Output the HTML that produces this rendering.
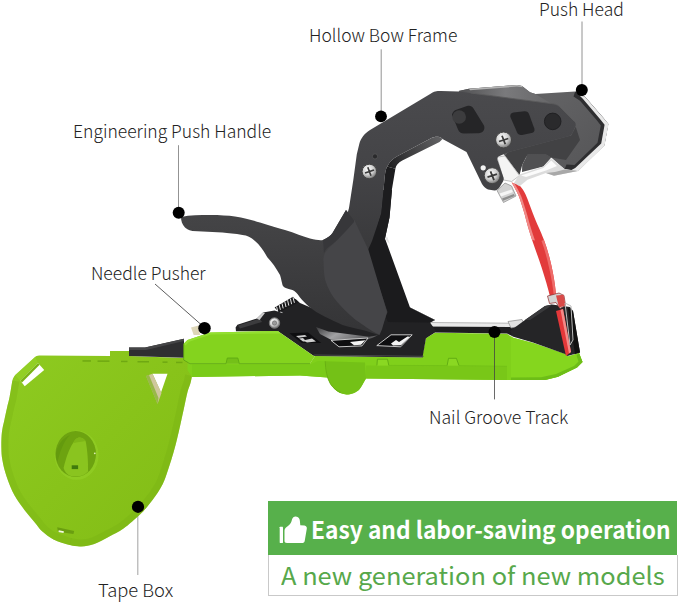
<!DOCTYPE html>
<html lang="en">
<head>
<meta charset="utf-8">
<title>Tape Tool Parts</title>
<style>
html,body{margin:0;padding:0;background:#fff;}
#stage{position:relative;width:679px;height:603px;overflow:hidden;background:#fff;
  font-family:"Noto Sans CJK SC","Liberation Sans",sans-serif;}
#art{position:absolute;left:0;top:0;}
.lb{position:absolute;white-space:nowrap;font-weight:300;font-size:17.5px;line-height:20px;color:#222;}
#banner{position:absolute;left:268px;top:501px;width:409px;height:54px;background:#57b04b;}
#banner span{position:absolute;left:43.1px;top:10px;font-weight:700;font-size:23.7px;line-height:36px;color:#fff;white-space:nowrap;transform:scaleX(0.960);transform-origin:0 50%;}
#sub{position:absolute;left:268px;top:555px;width:408px;height:40px;border:1px solid #c9c9c9;border-top:none;background:#fff;}
#sub span{position:absolute;left:12.2px;top:0px;font-weight:400;font-size:24.2px;line-height:39px;color:#57a84b;white-space:nowrap;transform:scaleX(1.05);transform-origin:0 50%;}
</style>
</head>
<body>
<div id="stage">
<svg id="art" width="679" height="603" viewBox="0 0 679 603">
<defs>
  <linearGradient id="gBox" x1="0" y1="0" x2="1" y2="1">
    <stop offset="0" stop-color="#8ecb21"/><stop offset="0.5" stop-color="#88c31a"/><stop offset="1" stop-color="#82bc16"/>
  </linearGradient>
  <linearGradient id="gFrame" x1="0" y1="0" x2="0" y2="1">
    <stop offset="0" stop-color="#4a4a4d"/><stop offset="0.45" stop-color="#444447"/><stop offset="1" stop-color="#38383a"/>
  </linearGradient>
  <linearGradient id="gHouse" x1="0" y1="0" x2="1" y2="0.6">
    <stop offset="0" stop-color="#525254"/><stop offset="0.5" stop-color="#626264"/><stop offset="1" stop-color="#58585a"/>
  </linearGradient>
  <linearGradient id="gHandle" x1="0" y1="0" x2="0" y2="1">
    <stop offset="0" stop-color="#454547"/><stop offset="1" stop-color="#343436"/>
  </linearGradient>
  <linearGradient id="gTopStrip" x1="0" y1="0" x2="1" y2="0">
    <stop offset="0" stop-color="#505052"/><stop offset="0.5" stop-color="#7a7a7c"/><stop offset="1" stop-color="#666668"/>
  </linearGradient>
  <linearGradient id="gRefl" x1="0" y1="0" x2="1" y2="0.3">
    <stop offset="0" stop-color="#3a3a3c"/><stop offset="0.45" stop-color="#a2a2a4"/><stop offset="1" stop-color="#5a5a5c"/>
  </linearGradient>
  <linearGradient id="gBevel" gradientUnits="userSpaceOnUse" x1="388" y1="166" x2="442" y2="139">
    <stop offset="0" stop-color="#1f1f21"/><stop offset="0.35" stop-color="#3a3a3c"/><stop offset="1" stop-color="#626264"/>
  </linearGradient>
  <radialGradient id="gScrew" cx="0.4" cy="0.35" r="0.7">
    <stop offset="0" stop-color="#ffffff"/><stop offset="0.55" stop-color="#cfcfcf"/><stop offset="1" stop-color="#6a6a6a"/>
  </radialGradient>
</defs>

<!-- ===== label leader lines ===== -->
<g stroke="#777" stroke-width="0.8" fill="none">
  <line x1="582" y1="21.5" x2="582" y2="90"/>
  <line x1="381.2" y1="49.3" x2="381.2" y2="116"/>
  <line x1="178.5" y1="145.2" x2="178.5" y2="212"/>
  <line x1="155" y1="284" x2="205" y2="328" stroke="#333"/>
  <line x1="137.8" y1="507" x2="137.8" y2="575" stroke="#aaa" stroke-width="1.1"/>
</g>

<!-- ===== tape box (green) ===== -->
<path d="M40.6,355.6 L110,356 L110,351 L129,351 L129,356 L184,358 L190,364 L192,376 C191.8,377.2 191.2,380.3 190.5,383.0 C189.8,385.7 188.6,387.8 187.5,392.0 C186.4,396.2 185.2,402.7 184.0,408.0 C182.8,413.3 181.7,418.7 180.5,424.0 C179.3,429.3 178.2,434.4 176.8,440.0 C175.4,445.6 174.1,450.7 172.0,457.4 C169.9,464.1 166.9,474.1 164.5,480.0 C162.1,485.9 160.3,488.7 157.5,493.0 C154.7,497.3 150.8,502.3 147.8,505.9 C144.8,509.5 143.8,511.0 139.7,514.8 C135.6,518.6 128.6,525.0 123.5,528.6 C118.4,532.2 113.8,534.1 108.9,536.7 C104.0,539.3 98.9,542.4 94.3,544.0 C89.7,545.6 85.4,546.2 81.3,546.4 C77.2,546.6 74.3,546.2 69.7,545.0 C65.1,543.8 58.1,541.7 53.5,539.4 C48.9,537.1 45.2,534.1 42.1,531.3 C39.0,528.5 37.5,525.6 34.8,522.4 C32.1,519.1 29.3,516.3 25.9,511.8 C22.5,507.3 17.8,501.5 14.6,495.6 C11.4,489.7 8.5,482.1 6.5,476.2 C4.5,470.3 3.2,464.7 2.4,460.0 C1.5,455.3 1.5,452.0 1.4,448.0 C1.3,444.0 1.4,439.3 1.6,436.0 C1.8,432.7 2.1,430.7 2.6,428.0 C3.1,425.3 3.7,423.3 4.4,420.0 C5.1,416.7 6.1,411.9 7.0,408.0 C7.9,404.1 8.8,401.2 9.7,396.6 C10.6,392.0 11.9,383.3 12.4,380.6 C13,378 14,376.5 15,375.3 L35.3,356.8 C37,355.8 38.5,355.6 40.6,355.6 Z" fill="url(#gBox)"/>
<!-- right/bottom rim -->
<path d="M192.0,376.0 C191.8,377.2 191.2,380.3 190.5,383.0 C189.8,385.7 188.6,387.8 187.5,392.0 C186.4,396.2 185.2,402.7 184.0,408.0 C182.8,413.3 181.7,418.7 180.5,424.0 C179.3,429.3 178.2,434.4 176.8,440.0 C175.4,445.6 174.1,450.7 172.0,457.4 C169.9,464.1 166.9,474.1 164.5,480.0 C162.1,485.9 160.3,488.7 157.5,493.0 C154.7,497.3 150.8,502.3 147.8,505.9 C144.8,509.5 143.8,511.0 139.7,514.8 C135.6,518.6 128.6,525.0 123.5,528.6 C118.4,532.2 113.8,534.1 108.9,536.7 C104.0,539.3 98.9,542.4 94.3,544.0 C89.7,545.6 85.4,546.2 81.3,546.4 C77.2,546.6 71.6,545.2 69.7,545.0 L70.5,538.1 C72.3,538.3 77.4,539.5 81.0,539.4 C84.6,539.3 87.9,538.9 92.0,537.4 C96.1,535.9 101.1,532.9 105.6,530.5 C110.2,528.1 114.6,526.4 119.4,522.9 C124.3,519.4 131.1,513.3 134.9,509.7 C138.7,506.1 139.6,504.9 142.4,501.5 C145.2,498.1 149.0,493.2 151.6,489.2 C154.2,485.2 155.7,483.0 158.0,477.4 C160.3,471.7 163.3,461.9 165.3,455.3 C167.3,448.8 168.6,443.8 170.0,438.3 C171.4,432.8 172.5,427.8 173.7,422.5 C174.9,417.2 176.0,411.9 177.2,406.5 C178.3,401.1 179.6,394.5 180.7,390.2 C181.8,386.0 183.0,383.7 183.8,381.1 C184.5,378.5 184.9,375.6 185.2,374.5 Z" fill="#79b314" opacity="0.45"/>
<!-- left rim -->
<path d="M69.7,545.0 C67.0,544.1 58.1,541.7 53.5,539.4 C48.9,537.1 45.2,534.1 42.1,531.3 C39.0,528.5 37.5,525.6 34.8,522.4 C32.1,519.1 29.3,516.3 25.9,511.8 C22.5,507.3 17.8,501.5 14.6,495.6 C11.4,489.7 8.5,482.1 6.5,476.2 C4.5,470.3 3.2,464.7 2.4,460.0 C1.5,455.3 1.5,452.0 1.4,448.0 C1.3,444.0 1.4,439.3 1.6,436.0 C1.8,432.7 2.1,430.7 2.6,428.0 C3.1,425.3 3.7,423.3 4.4,420.0 C5.1,416.7 6.1,411.9 7.0,408.0 C7.9,404.1 8.8,401.2 9.7,396.6 C10.6,392.0 11.9,383.3 12.4,380.6 L19.3,381.8 C18.8,384.5 17.5,393.3 16.6,398.0 C15.7,402.6 14.7,405.6 13.8,409.5 C12.9,413.5 12.0,418.2 11.2,421.5 C10.5,424.8 9.9,426.7 9.5,429.2 C9.1,431.7 8.8,433.3 8.6,436.4 C8.4,439.5 8.3,444.0 8.4,447.8 C8.5,451.5 8.5,454.4 9.3,458.8 C10.1,463.1 11.2,468.3 13.1,473.9 C15.0,479.5 17.7,486.6 20.7,492.3 C23.8,497.9 28.3,503.3 31.5,507.6 C34.7,511.9 37.6,514.8 40.2,517.9 C42.7,521.0 44.1,523.6 46.8,526.1 C49.5,528.7 52.4,531.1 56.6,533.1 C60.8,535.2 69.4,537.5 72.0,538.4 Z" fill="#7db716" opacity="0.5"/>
<path d="M15,375.3 L35.3,356.8 L38,363 L20.3,380.6 Z" fill="#97d42a" opacity="0.55"/>
<!-- hub -->
<ellipse cx="76.6" cy="455.2" rx="22" ry="24.6" fill="#95d12a" opacity="0.55"/>
<ellipse cx="75.7" cy="454" rx="20.3" ry="23" fill="#6da310"/>
<path d="M57.5,462 C60,452 63,442 70,435 C63,438 57.5,445 56.2,452 C55.6,456 56,459 57.5,462 Z" fill="#649a0e"/>
<path d="M63.6,468 C66,458 69,449 72.9,443.2 C75,439.5 77,437.6 79,437.4 C82,437.5 84.5,439 85.6,440.9 C87.5,450 88.3,462 88,471.5 C84,476.5 76,477.6 70,475.8 C67,474.5 64.5,471.5 63.6,468 Z" fill="#8ac41f"/>
<path d="M72.9,443.2 C75,439.5 77,437.6 79,437.4 C82,437.5 84.5,439 85.6,440.9 C82,441.5 77,442 72.9,443.2 Z" fill="#7db617"/>
<rect x="71.7" y="465.3" width="6.4" height="3.8" fill="#3f7a0c"/>
<circle cx="94.8" cy="453.3" r="0.9" fill="#dff0b8"/>
<!-- slots in box -->
<path d="M20.3,380.6 L38,363 L44.2,370 L24.7,386.3 Z" fill="#fff"/>
<path d="M20.3,380.6 L38,363 L39.6,364.8 L22,382.4 Z" fill="#79b314"/>
<path d="M57.2,527.2 L74.2,531 L73.4,534 L58,531.7 Z" fill="#6a9e10"/>
<path d="M58.7,530.3 L63.9,531.2 L63.5,533 L58.5,532 Z" fill="#f4fae4"/>
<!-- dashes on top -->
<g fill="#6fa812">
  <rect x="82.5" y="360.2" width="8.5" height="1.5"/><rect x="97.5" y="360.4" width="12" height="1.5"/>
  <rect x="121" y="360.7" width="6.5" height="1.5"/><rect x="137.5" y="361" width="11.5" height="1.5"/>
  <rect x="162.5" y="361.4" width="5" height="1.5"/><rect x="176" y="361.7" width="6.5" height="1.5"/>
</g>
<!-- triangle window -->
<path d="M152.5,373.7 L167.5,373.7 L161,392.5 Z" fill="#fff"/>
<path d="M146,376 L152.5,373.7 L161.5,393 L157.5,404 Z" fill="#cfc79c"/>
<path d="M146,376 L149,375 L158.5,398 L157.5,404 Z" fill="#74ae13" opacity="0.6"/>

<!-- ===== long green bar ===== -->
<path d="M187.5,363.5 L310,363.5 L315,356 L422,357.5 L426,338 L435,332.8 L507,333.8 L513,337.8 L533,343 L565,354 L568,356.5 L579,353 L582.5,362 L577,367.5 L558,376.7 L545,380 L480,379.8 L366,378.6 C363,383 362,386.5 359.7,389 C356,393 351,394.5 346.4,394.5 C341,394 337.5,392 334.5,389 C331,385.5 329.5,382 327.5,377.5 L300,375.5 L192,377 L187.5,370 Z" fill="#80d01b"/>
<!-- lower band (slightly darker) -->
<path d="M366,365.5 L447,365.8 L507,366.5 L507,380 L480,379.8 L366,378.6 Z" fill="#79c718"/>
<path d="M192,364.5 L310,364.5 L318,361 L325,361.2 L327.5,377.5 L300,375.5 L192,377 Z" fill="#7acb19"/>
<!-- funnel -->
<path d="M325.2,361.2 L365,362.5 L366,378.6 C363,383 362,386.5 359.7,389 C356,393 351,394.5 346.4,394.5 C341,394 337.5,392 334.5,389 C331,385.5 329.5,382 327.5,377.5 Z" fill="#74c117"/>
<path d="M325.2,361.2 C325.5,370 327,378 330.5,384 C333,388 337,391 341,392.5" fill="none" stroke="#66ae12" stroke-width="0.9"/>
<!-- end face -->
<path d="M511,336.3 L513,337.8 L533,343 L565,354 L568,356.5 L579,353 L582.5,362 L577,367.5 L558,376.7 L545,380 L511,380 Z" fill="#85d61e"/>
<path d="M545,380 L558,376.7 L577,367.5 L582.5,362 L579,353 L576.5,355.5 L578.5,361.5 L574,366 L556,374 L541,377.3 L511,377.5 L511,380 Z" fill="#6dbd17"/>
<!-- notches -->
<g fill="#8ad822" stroke="#5fa912" stroke-width="0.9">
  <path d="M376.9,365.4 L377.4,359.2 L387.5,359.2 L388.8,365.4"/>
  <path d="M447.1,365.6 L448.5,358.3 L456.4,358.3 L459,365.6"/>
</g>
<path d="M388.8,365.4 L447.1,365.6 M459,365.6 L507,366.3" fill="none" stroke="#6fbc16" stroke-width="0.7"/>

<!-- black wedge left of cover -->
<path d="M129,347.5 L145,347.5 L184,338.7 L184,357.8 L129,356 Z" fill="#2f2f31"/>
<path d="M129,347.5 L145,347.5 L184,338.7 L184,341 L146,350 L129,350 Z" fill="#454547"/>
<!-- beige needle -->
<path d="M191,327.5 L198.7,325.5 L200,335 L193.7,335 Z" fill="#ddd6b8"/>

<!-- ===== silver track & black strip ===== -->
<path d="M430,322 L523,323 L521,327 L430,326.5 Z" fill="#e9e9e9"/>
<path d="M430,322 L523,323 L523,324 L430,323 Z" fill="#bbb"/>
<path d="M426,326.5 L521,327 L512,336 L507,333.5 L435,332.5 L426,338 Z" fill="#1d1d1f"/>
<!-- small silver clip -->
<path d="M508,321.5 L522,319.5 L525,325.5 L511,328 Z" fill="#e2e2e2" stroke="#8a8a8a" stroke-width="0.7"/>

<!-- ===== right black wedge ===== -->
<path d="M510,331 L525,320 L545,306 L552,304.5 L570,307 L573,311 L580,352.5 L567.5,356 L565,354 L533,342.5 L512.5,336.5 Z" fill="#252527"/>
<path d="M568,308 L573,311 L580,352.5 L575,354 Z" fill="#111"/>
<path d="M525,320 L545,306 L552,304.5 L548,308 L530,320 Z" fill="#3a3a3c"/>

<!-- ===== red tape ===== -->
<path d="M511.6,182.5 L519,184.7 C522,188 524,191 525.6,194.4 C528,200 531,208 533,213.8 C537,224 540.5,231 543.9,239.7 C547,248 549.5,257 551.4,265.5 C553.5,275 555,284 555.7,291.4 L556,296.5 L550.5,298.5 C548,288 545,278 541.7,267.7 C538.5,258 535,248.5 532,239.7 C529,231 526.5,222 524.5,213.8 C522.5,207 520.5,201 519,196.6 C516.5,191 514,186.5 511.6,182.5 Z" fill="#e23b3b"/>
<path d="M511.6,182.5 L514.6,183.4 C517,187.5 519.5,192 521.5,197 C523.5,203 525.5,209 527.5,216 C529.5,224 532,232 535,240.5 L532,239.7 C529,231 526.5,222 524.5,213.8 C522.5,207 520.5,201 519,196.6 C516.5,191 514,186.5 511.6,182.5 Z" fill="#f08a88"/>
<path d="M543.9,239.7 C547,248 549.5,257 551.4,265.5 C553.5,275 555,284 555.7,291.4 L556,296.5 L554,297.2 C553,287 551,276 548.8,266.5 C547,258 544.5,249 541.5,241 Z" fill="#ee6c6a"/>
<path d="M556,311 L563,309 L571,352 L566,356 Z" fill="#e4383a"/>
<path d="M560.5,310 L563,309 L571,352 L569,353.5 Z" fill="#f48a88"/>
<!-- clip at bottom of tape -->
<path d="M547.5,296 L559,293 L564,295.5 L565.5,305.5 L560,308.5 L556,302.5 L549.5,303.5 Z" fill="#d4d4d4" stroke="#8a2a2a" stroke-width="0.7"/>
<path d="M556,295.5 L563.5,294.8 L565.5,305.5 L559,307.5 Z" fill="#d94a48"/>
<path d="M565,303 L571,306 L573,340 L570,345 Z" fill="none" stroke="#bdbdbd" stroke-width="1"/>

<!-- ===== black base plate ===== -->
<path d="M235.6,327.4 L237.4,324.8 L256.8,318.6 L263,312.4 L274.5,310.6 L283.3,313.3 L276,308 L295.7,299 L300,303 L340,320 L378,334 L387.5,310 L410,307.5 L435,320 L430,322.5 L436,331 L426,338 L422.5,357.5 L315,356 L313.4,355.7 L278,331.3 L236,331.3 Z" fill="#222224"/>
<!-- bracket gloss -->
<path d="M238,325.5 L256.8,319.4 L259,317.5 L262,322 L240,328.5 Z" fill="#3c3c3e"/>
<path d="M256.8,318.6 L263,312.4 L265,313 L259.5,320 Z" fill="#cfcfcf"/>
<!-- reflection under blade -->
<path d="M316,327 L328.3,331.5 L369,336.8 L378,335.2 L372,338 L365.4,340 L331,339.8 L320,334 Z" fill="url(#gRefl)"/>
<!-- slots -->
<path d="M331,340.4 L368,338 L362,345.9 L339,346.8 Z" fill="#0e0e10" stroke="#d8d8d8" stroke-width="0.9"/>
<path d="M350,342 L365.5,340.3 L361,344.8 L354,345.2 Z" fill="#f4f4f4"/>
<path d="M376.8,345.6 L391,334.8 L412.2,334.8 L400.7,346.8 Z" fill="#0e0e10" stroke="#d8d8d8" stroke-width="0.9"/>
<path d="M391,343.5 L396,340 L399,342 L407.5,336.5 L410,336.8 L401,345.3 L393,345.5 Z" fill="#f4f4f4"/>
<path d="M289.4,333.3 L308,332.4 L321.3,343 L301.8,343 Z" fill="#0e0e10"/>
<path d="M296,336 L305,335 L307,336.5 L298.5,337.8 Z M303,340.5 L312,338.5 L316,341.5 L307,342.5 Z M299,338.5 L303,338 L306,341 L303,341.5 Z" fill="#d0d0d0"/>
<!-- plate lower rim -->
<path d="M314.2,355 L423.5,356.3" fill="none" stroke="#4a4a4c" stroke-width="1"/>
<!-- silver edge highlight on base plate -->
<path d="M410,307.5 L435,320 L433,321.5 L409,309.5 Z" fill="#d6d6d6"/>
<path d="M388,311.5 L409,309 L409.5,310.5 L388.5,313 Z" fill="#555"/>
<!-- spring -->
<path d="M274.6,307.6 L293,296.8 L298.2,302.6 L279,312.6 Z" fill="#19191b"/>
<g stroke="#e6e6e6" stroke-width="1" fill="none">
  <path d="M277.6,311 L276.6,306.6 M280.4,309.8 L279.2,305 M283.2,308.4 L282,303.4 M286,307 L284.8,301.8 M288.8,305.6 L287.6,300.2 M291.6,304.2 L290.4,298.6 M294.4,302.8 L293,297.4"/>
</g>
<!-- bracket screw -->
<circle cx="274.5" cy="323" r="5.2" fill="url(#gScrew)" stroke="#777" stroke-width="1"/>
<circle cx="274.5" cy="323" r="2.2" fill="#9a9a9a" stroke="#666" stroke-width="0.6"/>

<!-- ===== bow frame (upper arm) ===== -->
<!-- right black leg -->
<path d="M381,190 L392,190 L389.5,217.5 L385,238.4 L410,307.5 L435,320 L430,322.5 L388,322 L378,300 L366,250 Z" fill="#1b1b1d"/>
<path d="M384.8,238.8 L387.2,236.8 L389.8,244 Z" fill="#e4e4e4"/>

<!-- push head housing (behind) -->
<path d="M458.6,91 L469,88.8 L517,85 L522,86 L530,92.2 L535.4,94 L575.2,91.4 L584.5,96.2 L603,117.4 L608.3,124 L604.4,145.3 L578,170.8 L564.6,169.3 L551.3,157.5 L505,156 L470,110 Z" fill="url(#gHouse)"/>
<!-- top face strip -->
<path d="M458.6,91 L469,88.8 L517,85 L522,86 L530,92.2 L535.4,94 L552,104 L470.5,93 Z" fill="url(#gTopStrip)"/>
<path d="M469,88.8 L517,85 L522,86 L523,87.3 L517,86.6 L470,90.2 Z" fill="#b4b4b4"/>
<!-- right bevel (dark) and silver edge -->
<path d="M575.2,91.4 L584.5,96.2 L603,117.4 L608.3,124 L604.4,145.3 L578,170.8 L564.6,169.3 L566.5,164.5 L574.5,165 L597.5,142.8 L600.8,125.6 L597,120.5 L580,100.8 L573.5,96.5 Z" fill="#2e2e30"/>
<path d="M584.5,96.2 L603,117.4 L608.6,124 L604.6,145.6 L578.2,171.2 L571,170.2 L575.2,168 L601.2,143.6 L604.6,124.8 L600.4,119.4 L582.8,98.8 L580,96 Z" fill="#e8e8e8"/>
<!-- underside of housing -->
<path d="M507.6,152.4 L571.2,135.4 L575.7,126.7 L580,140 L566,160 L551.3,157.5 L546,154.5 L527.5,154.5 L522.2,165 L519.5,175 L505,156 Z" fill="#424244"/>
<path d="M527.5,154.5 L546,154.5 L551.3,157.5 L543.4,166.5 L522,172 L522.2,165 Z" fill="#505052"/>
<!-- silver parts under head -->
<path d="M497,157.2 L505,155.9 L519.5,175.7 L511.6,181.5 L503.6,180 Z" fill="#f4f4f4" stroke="#9a9a9a" stroke-width="0.6"/>
<path d="M519.5,174.4 L543.4,166.5 L551.3,158.5 L559.3,165.1 L564.6,169 L577.9,171 L554,175.7 L546,173 L527.5,179.7 L519.5,186.3 L514,183 Z" fill="#dcdcdc"/>
<path d="M521,175.5 L543.4,168 L551.3,160.5 L557,166 L546,170.5 L526,177 Z" fill="#fbfbfb"/>
<path d="M546,173 L554,175.7 L577.9,171 L564.6,169.6 L555,172 Z" fill="#a8a8a8"/>

<!-- frame main incl. front plate -->
<path d="M458.6,91.4 L441,91 C436,91 434,91.5 431,93.5 L370,130 C364,134 361,138 359.4,143.6 L356.8,154.2 L353.3,180 L349,208 L340,240 L352,260 L368,250 L372,241 L379.4,219 L381.4,212.9 L383.7,189.6 C384.5,178 385,170 387.2,166.4 C390,161.5 393,158.5 397.7,156 L431,138.2 C433.5,137 436,136.5 438,136.8 C440,137 441,137.6 442.5,139 L466.5,151.9 L482,184 C483.5,186.5 485.5,188.5 488,189.5 L494.5,190.5 C497,190.3 498.5,189 500,186.5 L503,181.5 C503.7,180.3 503.8,179 503.5,177.5 L497.5,160 C497,158.3 497.5,157 499,156.2 L507.6,152.4 L568.5,136.2 C570.3,135.7 571.5,134.8 572.2,133.3 L575.4,126.6 C576,125 575.8,123.2 574.6,121.6 L559.3,106.3 C557,104.4 554.5,103.8 551.3,103.6 L470.5,93 Z" fill="url(#gFrame)"/>
<path d="M470.5,93 L551.3,103.6 C554.5,103.8 557,104.4 559.3,106.3 L574.6,121.6" fill="none" stroke="#5c5c5e" stroke-width="0.9"/>
<!-- inner bevel: lighter on slanted part -->
<path d="M397.7,156 L431,138.2 C433.5,137 436,136.5 438,136.8 C440,137 441,137.6 442.5,139 L439.5,142 L402.3,160.6 C398,163 396,165.5 395.4,168.7 L387.2,166.4 C390,161.5 393,158.5 397.7,156 Z" fill="url(#gBevel)"/>
<!-- inner bevel: dark vertical -->
<path d="M387.2,166.4 L395.4,168.7 L391.9,189.6 L389.5,217.5 L385,238.4 L378,225 L381.4,212.9 L383.7,189.6 C384.5,178 385,170 387.2,166.4 Z" fill="#1d1d1f"/>
<!-- silver lower hook -->
<path d="M497,190.5 L505,183 L511.6,186 L516,196 L503.5,202.5 Z" fill="#d2d2d2" stroke="#8a8a8a" stroke-width="0.7"/>
<path d="M499.5,193.5 L511.5,189.5 L513,192 L501,196.5 Z" fill="#f6f6f6"/>
<path d="M502,198.5 L513.8,194 L514.8,196 L503,200.8 Z" fill="#8e8e8e"/>
<!-- holes in front plate -->
<path d="M452,114.8 C452.5,112 454,110.5 457,109.5 L467,106 C470,105.2 472,106 473.5,108.5 L483.7,125 C485,127.5 484.5,130 482.4,132 C481,133 479,133.3 477,133.3 L464,133.5 C461,133.5 459,132 458,129.5 Z" fill="#252527"/>
<circle cx="459.2" cy="117" r="6.8" fill="#3c3c3e"/>
<path d="M510.3,116.8 C510,114.2 511.3,113 513.5,112.6 L524.5,111.3 C527,111.2 528.3,112.2 529.2,114.5 L534.3,128.5 C535,131 534,132.4 531.5,133 L522,135 C519.5,135.4 518,134.5 517,132.3 Z" fill="#252527"/>
<circle cx="552.7" cy="121.4" r="8.3" fill="#2a2a2c"/>
<circle cx="552.7" cy="121.4" r="8.3" fill="none" stroke="#1e1e20" stroke-width="0.9"/>
<!-- screws -->
<circle cx="503.6" cy="140" r="8" fill="url(#gScrew)" stroke="#444" stroke-width="1"/>
<path d="M499,141.5 L508.3,138.5 M502,135.7 L505.3,144.3" stroke="#3a3a3a" stroke-width="1.8"/>
<circle cx="492.2" cy="175.7" r="8" fill="url(#gScrew)" stroke="#444" stroke-width="1"/>
<path d="M487.5,177.2 L497,174.2 M490.5,171.3 L494,180.2" stroke="#3a3a3a" stroke-width="1.8"/>
<circle cx="483.2" cy="167.8" r="2.6" fill="#f2f2f2"/>
<circle cx="369.4" cy="171.5" r="7.3" fill="url(#gScrew)" stroke="#444" stroke-width="1"/>
<path d="M365,173 L374,170 M367.8,167.3 L371,175.8" stroke="#3a3a3a" stroke-width="1.7"/>
<circle cx="375" cy="156.4" r="2.6" fill="#2a2a2c" stroke="#5a5a5c" stroke-width="0.7"/>

<!-- ===== push handle ===== -->
<path d="M181,217 C190,215 200,215 210,215 C220,215 228,215.5 235,216.5 C245,218 252,220 260,222.5 C270,225.5 278,228 285,230 C295,233 303,236.5 310,238.5 C316,240 320,240.5 323,240 C328,238 331,235 332.5,233 L346,210 L354,220 L367.5,252 L387.5,312 L380,332 L378.5,335 C372,333 368,331 362.5,330 C355,328 348,327 342.5,325 C330,319 318,314 310,307.5 C305,303 302,300 300,297.5 C297,293 295,291 292.5,290 C287,288.5 283.5,288 282.5,285 C281.5,281 281,278 280,275 C276,268 272,262 267.5,257.5 C263,250 260,245 255,241 C251,237 247,235.5 242.5,235 C235,233.5 228,233 222.5,232.5 L192.5,231 C188,230 186,228.5 185,227.5 C182,224 181,221 181,217 Z" fill="url(#gHandle)"/>
<!-- blade inner lighter panel -->
<path d="M353.5,218.6 C346,229 339,239 331,246 C325,251.5 322.5,256 323.6,262 C323.5,268 324,274 325,279.5 C327.5,288 332,296 337.3,302 C345,311 353,318.5 362,324.3 C368,328.5 375,333 379.5,335 L382,329.3 L387,312 L368.4,249.7 Z" fill="#454548"/>
<!-- blade left darker -->
<path d="M346,210 L354,220 L354,222 C345,232 338,240 330,246 C327,248 325,250 324,253 L323,240 C328,238 331,235 332.5,233 Z" fill="#37373a"/>

<!-- ===== green cover ===== -->
<path d="M183.7,343.7 L187.5,340 L210,332.5 L275,331 L278,331.3 L313.4,355.7 L315,356 L310,363.7 L190,363.7 L183.7,360 Z" fill="#84d31e"/>
<path d="M183.7,343.7 L187.5,340 L210,332.5 L275,331 L278,331.3 L281,333.4 L211,334.6 L189,341.8 L185.5,345.5 Z" fill="#93df30"/>
<path d="M226,363.7 L227.3,358 L237.8,358 L239.3,363.7 Z" fill="#74c018"/>
<path d="M190,363.7 L226,363.7 L227.3,358 L237.8,358 L239.3,363.7 L310,363.7" fill="none" stroke="#5fa912" stroke-width="0.9"/>
<path d="M183.7,343.7 L183.7,360 L190,363.7" fill="none" stroke="#5aa012" stroke-width="0.8"/>

<!-- ===== dots ===== -->
<line x1="494.5" y1="332" x2="494.5" y2="399.4" stroke="#444" stroke-width="0.8"/>
<g fill="#000">
  <circle cx="581.8" cy="90.1" r="6"/>
  <circle cx="381" cy="116.4" r="5.9"/>
  <circle cx="178.7" cy="212.8" r="6"/>
  <circle cx="204.5" cy="328.2" r="6.2"/>
  <circle cx="494.5" cy="332" r="6"/>
  <circle cx="138" cy="506.8" r="6.1"/>
</g>

</svg>

<div class="lb" style="left:539px;top:-1px;">Push Head</div>
<div class="lb" style="left:309px;top:25px;">Hollow Bow Frame</div>
<div class="lb" style="left:73px;top:121px;">Engineering Push Handle</div>
<div class="lb" style="left:91px;top:263px;">Needle Pusher</div>
<div class="lb" style="left:429.3px;top:406.5px;transform:scaleX(1.008);transform-origin:0 50%;">Nail Groove Track</div>
<div class="lb" style="left:98px;top:580.3px;transform:scaleX(1.05);transform-origin:0 50%;">Tape Box</div>

<div id="banner"><svg width="30" height="30" viewBox="278 514 30 30" style="position:absolute;left:10px;top:13px;"><g fill="#fff"><rect x="279.7" y="526.8" width="3.3" height="16.2" rx="0.4"/><path d="M284.5,530.5 C284.5,528.5 286,527.3 288,526 C290.5,524.3 291.5,522 292,519.5 C292.6,517.3 294,516.3 295.8,516.4 C298.5,516.6 299.9,518.6 299.9,521 L300.3,525.2 L304.5,525.6 C306.3,525.9 307,527.3 306.8,528.8 L304.7,541 C304.4,542.5 303.4,543 302,543 L287,543 C285.3,543 284.5,542.2 284.5,541 Z"/></g></svg><span>Easy and labor-saving operation</span></div>
<div id="sub"><span>A new generation of new models</span></div>
</div>
</body>
</html>
